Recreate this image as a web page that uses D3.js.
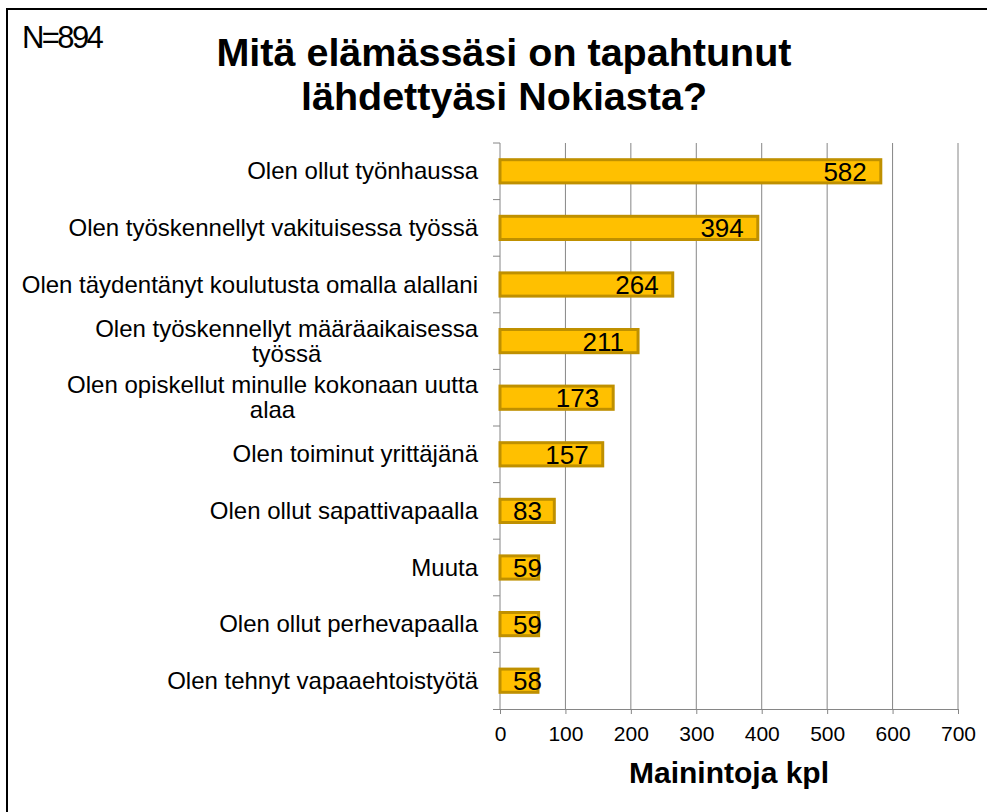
<!DOCTYPE html>
<html>
<head>
<meta charset="utf-8">
<script src="https://cdn.jsdelivr.net/npm/d3@7"></script>
<style>
  body { margin: 0; background: #fff; }
  svg { display: block; font-family: "Liberation Sans", Arial, sans-serif; }
</style>
</head>
<body>
<svg id="chart" width="987" height="812"></svg>
<script>
// categories top to bottom, with manual line breaks as in the source
var categories = [
    ["Olen ollut työnhaussa"],
    ["Olen työskennellyt vakituisessa työssä"],
    ["Olen täydentänyt koulutusta omalla alallani"],
    ["Olen työskennellyt määräaikaisessa", "työssä"],
    ["Olen opiskellut minulle kokonaan uutta", "alaa"],
    ["Olen toiminut yrittäjänä"],
    ["Olen ollut sapattivapaalla"],
    ["Muuta"],
    ["Olen ollut perhevapaalla"],
    ["Olen tehnyt vapaaehtoistyötä"]
];
var counts = [582, 394, 264, 211, 173, 157, 83, 59, 59, 58];
var xTicks = [0, 100, 200, 300, 400, 500, 600, 700];

var svg = d3.select("#chart");

var plotLeft = 500, plotRight = 958, plotTop = 143, plotBottom = 709;

var x = d3.scaleLinear().domain([0, 700]).range([plotLeft, plotRight]);
var y = d3.scaleBand()
    .domain(d3.range(categories.length))
    .range([plotTop, plotBottom])
    .paddingInner(0.59)
    .paddingOuter(0.295);

// outer frame
svg.append("rect")
    .attr("x", 7).attr("y", 9)
    .attr("width", 1000).attr("height", 820)
    .attr("fill", "none")
    .attr("stroke", "#000")
    .attr("stroke-width", 2);

svg.append("text")
    .attr("x", 22).attr("y", 48)
    .style("font-size", "31px")
    .style("letter-spacing", "-2.6px")
    .text("N=894");

var title = svg.append("text")
    .attr("text-anchor", "middle")
    .style("font-size", "39.5px")
    .style("font-weight", 700);
title.append("tspan").attr("x", 504).attr("y", 66).text("Mitä elämässäsi on tapahtunut");
title.append("tspan").attr("x", 504).attr("y", 110).text("lähdettyäsi Nokiasta?");

// gridlines
svg.append("g")
    .selectAll("line")
    .data(xTicks.slice(1))
    .join("line")
    .attr("x1", d => x(d)).attr("x2", d => x(d))
    .attr("y1", plotTop).attr("y2", plotBottom)
    .attr("stroke", "#868686")
    .attr("stroke-width", 1);

// x axis
var xAxis = svg.append("g")
    .attr("transform", `translate(0,${plotBottom})`)
    .call(d3.axisBottom(x).tickValues(xTicks).tickSize(5).tickPadding(12).tickSizeOuter(0));
xAxis.select(".domain").attr("stroke", "#868686").attr("d", `M${plotLeft - 7},0.5H${plotRight}`);
xAxis.selectAll(".tick line").attr("stroke", "#868686");
xAxis.selectAll(".tick text")
    .style("font-size", "21px")
    .style("font-family", "'Liberation Sans', Arial, sans-serif")
    .attr("fill", "#000");

// y axis line + ticks between categories
svg.append("line")
    .attr("x1", plotLeft).attr("x2", plotLeft)
    .attr("y1", plotTop).attr("y2", plotBottom)
    .attr("stroke", "#868686");
svg.append("g")
    .selectAll("line")
    .data(d3.range(categories.length))
    .join("line")
    .attr("x1", plotLeft - 7).attr("x2", plotLeft)
    .attr("y1", d => y(d) - y.step() * y.paddingInner() / 2)
    .attr("y2", d => y(d) - y.step() * y.paddingInner() / 2)
    .attr("stroke", "#868686");

// category labels
var lineH = 25;
svg.append("g")
    .selectAll("g")
    .data(categories)
    .join("g")
    .each(function (lines, i) {
        var g = d3.select(this);
        var cy = y(i) + y.bandwidth() / 2;
        var t = g.append("text").style("font-size", "24px").attr("fill", "#000");
        var spans = t.selectAll("tspan").data(lines).join("tspan").text(d => d);
        var widths = [];
        spans.each(function () { widths.push(this.getComputedTextLength()); });
        var w = d3.max(widths);
        var x0 = 478 - w;
        var y0 = cy - (lines.length - 1) * lineH / 2 + 8;
        spans
            .attr("text-anchor", "middle")
            .attr("x", x0 + w / 2)
            .attr("y", (d, k) => y0 + k * lineH);
    });

// bars
svg.append("g")
    .selectAll("rect")
    .data(counts)
    .join("rect")
    .attr("x", x(0))
    .attr("y", (d, i) => y(i))
    .attr("width", d => x(d) - x(0))
    .attr("height", y.bandwidth())
    .attr("fill", "#FFC000")
    .attr("stroke", "#BF9000")
    .attr("stroke-width", 3);

// value labels, inside end
svg.append("g")
    .selectAll("text")
    .data(counts)
    .join("text")
    .style("font-size", "26px")
    .attr("fill", "#000")
    .attr("text-anchor", "end")
    .attr("y", (d, i) => y(i) + y.bandwidth() / 2 + 9.5)
    .text(d => d)
    .attr("x", function (d) {
        var w = this.getComputedTextLength();
        return Math.max(x(d) - 14, x(0) + 13 + w);
    });

svg.append("text")
    .attr("x", (plotLeft + plotRight) / 2)
    .attr("y", 783)
    .attr("text-anchor", "middle")
    .style("font-size", "30px")
    .style("font-weight", 700)
    .text("Mainintoja kpl");
</script>
</body>
</html>
